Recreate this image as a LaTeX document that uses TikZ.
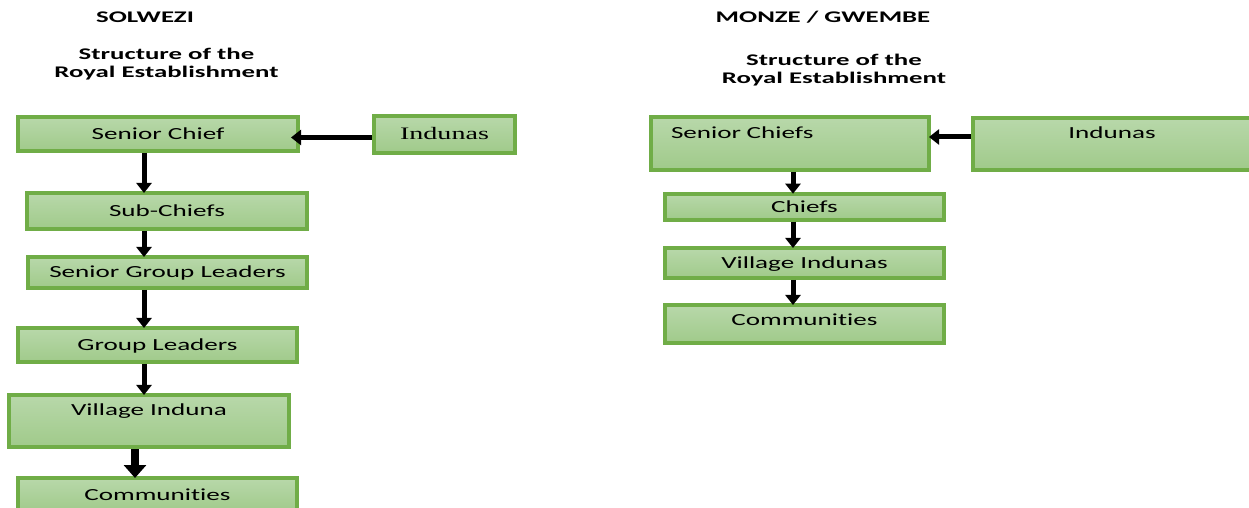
\documentclass[tikz,border=0pt]{standalone}
\usepackage{fontspec}
\setmainfont{Carlito}
\newfontfamily\boxfont[FakeStretch=1.6,Ligatures=NoCommon]{Carlito}
\newfontfamily\headfont[FakeStretch=1.65,Ligatures=NoCommon]{Carlito}
\newfontfamily\serifbox[FakeStretch=1.6]{Liberation Serif}
\usetikzlibrary{arrows.meta,positioning}
\definecolor{boxedge}{RGB}{112,173,71}
\definecolor{boxtop}{RGB}{184,216,170}
\definecolor{boxbot}{RGB}{160,202,138}

\begin{document}
\begin{tikzpicture}[
  x=1bp, y=-1bp,
  title/.style={font=\headfont\bfseries\fontsize{16.3}{18}\selectfont, align=center, inner sep=0pt},
  box/.style={draw=boxedge, line width=4bp, top color=boxtop, bottom color=boxbot, inner sep=0pt, text height=11bp, text depth=0bp, minimum width=279bp, font=\boxfont\fontsize{17}{20}\selectfont},
  arrow/.style={-{Triangle[length=10bp,width=15bp]}, line width=5bp, shorten >=-2bp},
  bigarrow/.style={-{Triangle[length=13bp,width=22bp]}, line width=8bp, shorten >=-2bp}
]
\useasboundingbox (0,0) rectangle (1249,508);

% Solwezi
\node[title, anchor=base] (solt) at (145,22.3) {SOLWEZI};
\node[title, anchor=base] (solh) at (166.5,77.3) {Structure of the\\Royal Establishment};

\node[box, minimum width=280bp, minimum height=34bp] (sc) at (158,134) {Senior Chief};
\node[box, minimum width=141bp, minimum height=37bp, font=\serifbox\fontsize{17.6}{20}\selectfont] (ind) at (444.5,134.3) {Indunas};
\node[box, minimum width=280bp, minimum height=36bp] (sub) at (167,211) {Sub-Chiefs};
\node[box, minimum height=31bp] (sgl) at (167.5,272.5) {Senior Group Leaders};
\node[box, minimum height=34bp] (gl) at (157.5,345) {Group Leaders};
\node[box, minimum width=280bp, minimum height=52bp, text height=21bp, text depth=31bp] (vi) at (149,421) {Village Induna};
\node[box, minimum height=34bp] (com) at (157.5,495) {Communities};

\coordinate (lx) at (144,0);
\coordinate (ly) at (0,137.5);
\draw[arrow, shorten >=-9bp] (ind.west |- ly) -- (sc.east |- ly);
\draw[arrow] (sc.south -| lx) -- (sub.north -| lx);
\draw[arrow] (sub.south -| lx) -- (sgl.north -| lx);
\draw[arrow] (sgl.south -| lx) -- (gl.north -| lx);
\draw[arrow] (gl.south -| lx) -- (vi.north -| lx);
\draw[bigarrow] (vi.south -| com.north west) ++(119,0) coordinate (vb) -- (com.north -| vb);

% Monze / Gwembe
\node[title, anchor=base] (mgt) at (823,22.3) {MONZE / GWEMBE};
\node[title, anchor=base] (mgh) at (834,83.5) {Structure of the\\Royal Establishment};

\node[box, minimum width=278.5bp, minimum height=53bp, text height=22bp, text depth=31bp, align=left, text width=237.5bp, inner xsep=20.5bp] (ssc) at (789.75,143.5) {Senior Chiefs};
\node[box, minimum width=278bp, minimum height=52bp, text height=21bp, text depth=31bp] (rind) at (1112,144) {Indunas};
\node[box, minimum height=26bp] (chf) at (804.5,206.7) {Chiefs};
\node[box, minimum height=30bp] (vis) at (804.5,263) {Village Indunas};
\node[box, minimum height=38bp, text height=21bp, text depth=17bp] (rcom) at (804.5,324) {Communities};

\coordinate (rx) at (793,0);
\coordinate (ry) at (0,137);
\draw[arrow] (rind.west |- ry) -- (ssc.east |- ry);
\draw[arrow] (ssc.south -| rx) -- (chf.north -| rx);
\draw[arrow] (chf.south -| rx) -- (vis.north -| rx);
\draw[arrow] (vis.south -| rx) -- (rcom.north -| rx);
\end{tikzpicture}
\end{document}
